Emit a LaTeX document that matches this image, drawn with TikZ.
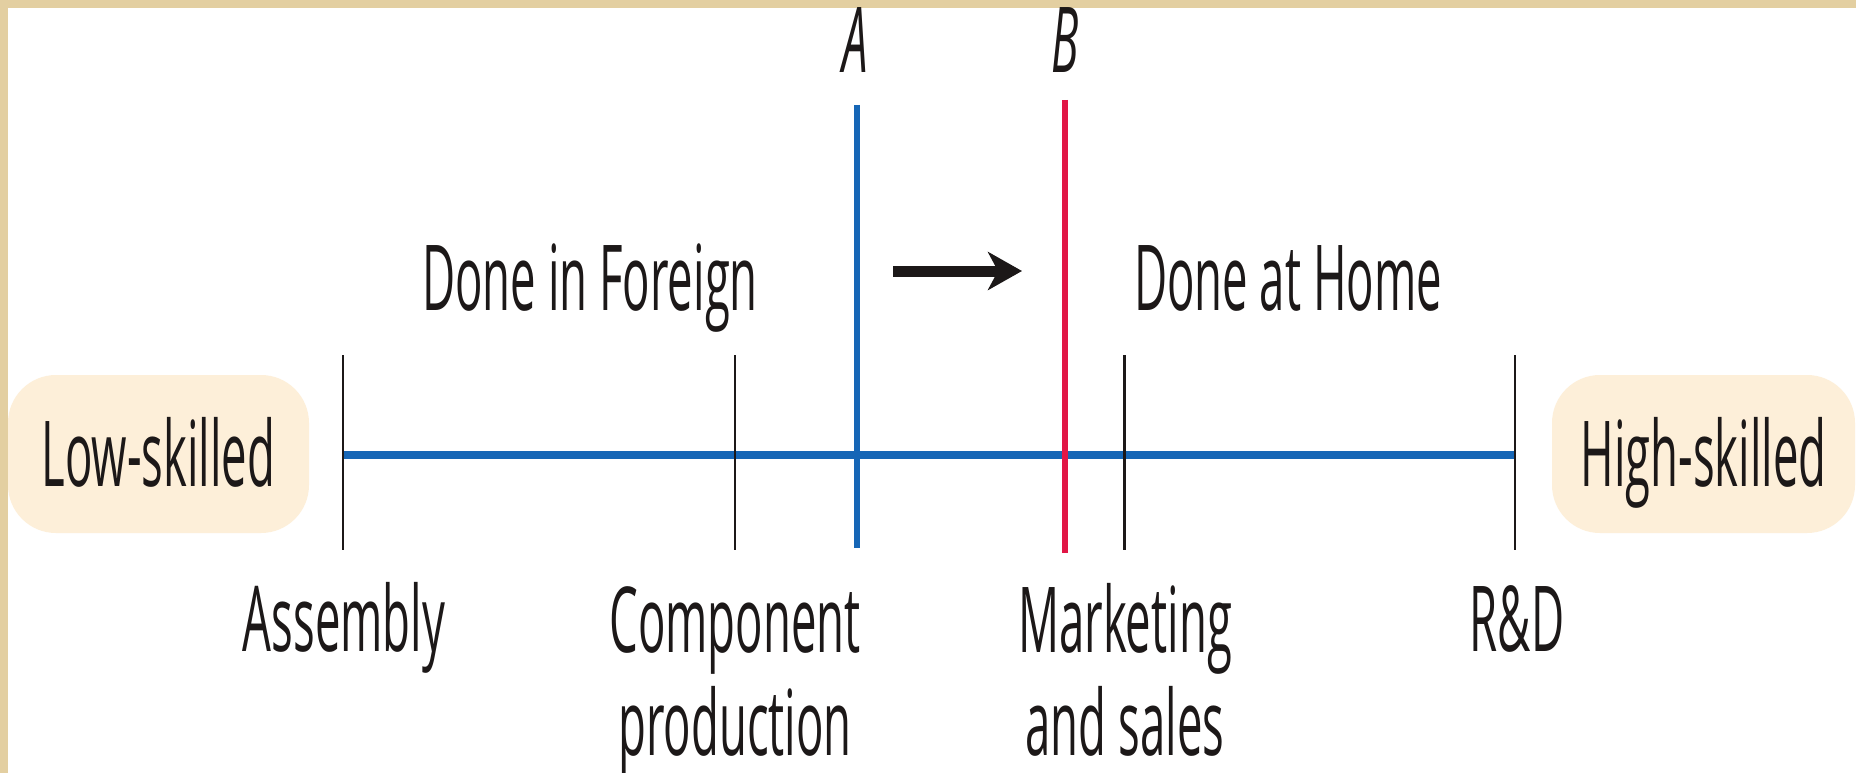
\documentclass[tikz,border=0pt]{standalone}
\usepackage{fontspec}
\usetikzlibrary{arrows.meta}
\newfontfamily\labfont{Open Sans}[FakeStretch=0.5]
\definecolor{frame}{RGB}{227,207,161}
\definecolor{boxfill}{RGB}{253,239,217}
\definecolor{lineblue}{RGB}{22,102,182}
\definecolor{linered}{RGB}{225,22,70}
\definecolor{ink}{RGB}{28,24,24}
\begin{document}
\begin{tikzpicture}[x=1pt,y=-1pt,
  lab/.style={font=\labfont\fontsize{91}{103}\selectfont, text=ink, inner sep=0pt, align=center},
  itlab/.style={font=\labfont\itshape\fontsize{91}{103}\selectfont, text=ink, inner sep=0pt},
  skillbox/.style={lab, fill=boxfill, rounded corners=48pt, minimum height=158pt, text height=65pt, text depth=0pt},
  tickline/.style={draw=ink, line width=2.5pt},
  axis/.style={draw=lineblue, line width=8pt},
  cutA/.style={draw=lineblue, line width=5.5pt},
  cutB/.style={draw=linered, line width=5.5pt},
  shiftarrow/.style={draw=ink, line width=11pt, -{Stealth[length=34pt, width=38pt, inset=10pt]}}]
\useasboundingbox (0,0) rectangle (1856,773);
\fill[white] (0,0) rectangle (1856,773);
\fill[frame] (0,0) rectangle (1856,8);
\fill[frame] (0,0) rectangle (8,773);

% skill boxes
\node[skillbox, minimum width=301pt] (low) at (158.5,454) {Low-skilled};
\node[skillbox, minimum width=303pt] (high) at (1703.5,454) {High-skilled};

% axis
\coordinate (hl) at (343,455);
\coordinate (hr) at (1515,455);
\draw[axis] (hl) -- (hr);

% ticks
\coordinate (t1a) at (343,355);  \coordinate (t1b) at (343,550);
\coordinate (t2a) at (735,355);  \coordinate (t2b) at (735,550);
\coordinate (t3a) at (1124.5,355); \coordinate (t3b) at (1124.5,550);
\coordinate (t4a) at (1515,355); \coordinate (t4b) at (1515,550);
\draw[tickline] (t1a) -- (t1b);
\draw[tickline] (t2a) -- (t2b);
\draw[tickline] (t3a) -- (t3b);
\draw[tickline] (t4a) -- (t4b);

% cut lines
\coordinate (Aa) at (857,105); \coordinate (Ab) at (857,548);
\coordinate (Ba) at (1065,100); \coordinate (Bb) at (1065,553);
\draw[cutA] (Aa) -- (Ab);
\draw[cutB] (Ba) -- (Bb);
\node[itlab, anchor=base] (A) at (855,73) {A};
\node[itlab, anchor=base] (B) at (1065,73) {B};

% shift arrow
\coordinate (as) at (893,271);
\coordinate (ae) at (1022,271);
\draw[shiftarrow] (as) -- (ae);

% region labels
\node[lab, anchor=base] (foreign) at (590,310) {Done in Foreign};
\node[lab, anchor=base] (home) at (1288,310) {Done at Home};

% activity labels (multi-line nodes: base = last line)
\node[lab, anchor=base] (asm) at (344,651) {Assembly};
\node[lab, anchor=base] (comp) at (735,755) {Component\\production};
\node[lab, anchor=base] (mkt) at (1125,755) {Marketing\\and sales};
\node[lab, anchor=base] (rd) at (1517,651) {R\&D};
\end{tikzpicture}
\end{document}
